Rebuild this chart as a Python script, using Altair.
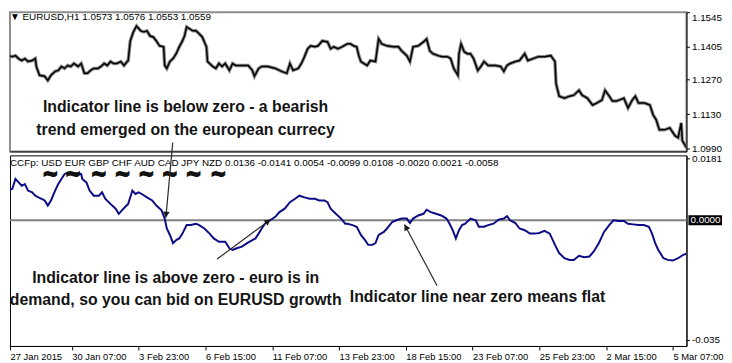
import altair as alt
import pandas as pd

# ---------------- data ----------------
# EURUSD H1 price, sampled by bar index
price_bar = [0,3,7,10,13,16,19,22,26,29,
             30,33,38,41,44,48,51,54,57,60,
             63,66,70,73,76,79,82,85,89,92,
             95,98,101,104,107,111,114,117,118,120,
             123,126,130,133,136,139,142,145,148,152,
             153,155,158,161,164,167,170,172,174,177,
             180,183,186,189,193,194,199,202,205,208,
             211,215,218,221,227,233,237,239,243,246,
             252,259,265,270,273,276,281,284,287,290,
             293,297,300,304,309,312,315,319,323,328,
             331,334,337,339,341,344,347,350,355,358,
             361,366,372,377,380,385,388,391,396,401,
             404,407,410,415,419,424,427,430,434,435,
             437,440,443,446,449,453,456,459,463,470,
             475,478,481,484,489,493,498,501,506,511,
             517,523,527,528,531,536,541,545,550,553,
             558,563,567,572,575,579,582,586,593,597,
             601,604,607,613,618,621,624,627,632,637,
             642,645,646,648,649,653]
price_close = [1.1368,1.1368,1.1364,1.1368,1.1356,1.1348,1.1356,1.1344,1.1348,1.1356,
               1.1324,1.1288,1.1284,1.1267,1.1288,1.1304,1.1308,1.1324,1.1316,1.1328,
               1.1324,1.1336,1.1324,1.1336,1.1296,1.1296,1.1308,1.1316,1.1316,1.1324,
               1.1336,1.1328,1.1344,1.1336,1.1336,1.1344,1.1328,1.1344,1.1348,1.1428,
               1.1465,1.1489,1.1469,1.1465,1.1469,1.1448,1.1444,1.1428,1.1408,1.1404,
               1.1328,1.1316,1.1344,1.1356,1.1376,1.1404,1.1428,1.1448,1.1485,1.1477,
               1.1469,1.1469,1.1457,1.1444,1.1404,1.1344,1.1324,1.1316,1.1336,1.1324,
               1.1336,1.1308,1.1336,1.1328,1.1328,1.1328,1.1308,1.1284,1.1316,1.1324,
               1.1324,1.1316,1.1304,1.1296,1.1336,1.1308,1.1316,1.1336,1.1364,1.1396,
               1.1408,1.1404,1.1408,1.1428,1.1424,1.1396,1.1404,1.1396,1.1404,1.1416,
               1.1416,1.1408,1.1404,1.1368,1.1344,1.1336,1.1328,1.1348,1.1344,1.1436,
               1.1416,1.1408,1.1404,1.1404,1.1388,1.1368,1.1344,1.1404,1.1408,1.1424,
               1.1436,1.1388,1.1376,1.1368,1.1364,1.1364,1.1356,1.1316,1.1288,1.1376,
               1.1416,1.1384,1.1376,1.1376,1.1356,1.1308,1.1324,1.1344,1.1328,1.1328,
               1.1324,1.1304,1.1328,1.1336,1.1344,1.1348,1.1376,1.1348,1.1356,1.1364,
               1.1364,1.1368,1.1344,1.1255,1.1203,1.1195,1.1203,1.1207,1.1227,1.1207,
               1.1195,1.1167,1.1175,1.1187,1.1227,1.1203,1.1183,1.1183,1.1195,1.1155,
               1.1187,1.1203,1.1175,1.1175,1.1167,1.1127,1.1107,1.1066,1.1066,1.1074,
               1.1042,1.1034,1.1054,1.1094,1.1022,1.0994]

# CCFp EUR indicator line
ind_bar = [0,3,7,10,13,16,19,22,26,29,
           32,35,38,41,44,48,51,54,57,60,
           65,70,73,74,78,81,85,90,93,96,
           101,106,109,112,115,118,122,125,128,131,
           136,141,145,150,153,155,158,161,164,167,
           170,174,178,183,186,191,196,200,205,211,
           215,218,222,227,232,237,240,243,246,249,
           254,259,263,268,273,278,282,287,292,297,
           301,306,309,312,317,322,326,328,333,337,
           341,345,348,352,355,358,363,366,371,375,
           380,385,388,391,396,401,404,408,413,418,
           423,426,429,432,435,438,441,446,451,454,
           459,463,468,473,478,481,484,489,493,498,
           503,508,512,517,522,527,531,536,541,545,
           550,555,560,564,569,574,579,583,588,593,
           597,602,607,612,617,620,623,626,631,635,
           640,645,650,653]
ind_val = [0.0053,0.0087,0.0092,0.0121,0.0111,0.0101,0.0106,0.0087,0.0082,0.0072,
           0.0067,0.0063,0.0058,0.0043,0.0058,0.0087,0.0106,0.0121,0.0135,0.0140,
           0.0137,0.0137,0.0135,0.0121,0.0111,0.0087,0.0072,0.0072,0.0082,0.0063,
           0.0048,0.0034,0.0019,0.0029,0.0039,0.0048,0.0087,0.0077,0.0082,0.0077,
           0.0067,0.0058,0.0043,0.0029,0.0005,-0.0024,-0.0043,-0.0067,-0.0058,-0.0053,
           -0.0039,-0.0014,-0.0014,-0.0010,-0.0014,-0.0024,-0.0039,-0.0053,-0.0063,-0.0063,
           -0.0082,-0.0087,-0.0082,-0.0077,-0.0067,-0.0058,-0.0053,-0.0039,-0.0024,-0.0010,
           0.0000,0.0010,0.0024,0.0034,0.0053,0.0063,0.0072,0.0067,0.0063,0.0063,
           0.0058,0.0058,0.0053,0.0034,0.0019,0.0005,-0.0010,-0.0010,-0.0014,-0.0019,
           -0.0043,-0.0058,-0.0072,-0.0072,-0.0067,-0.0043,-0.0034,-0.0024,-0.0005,0.0000,
           0.0005,0.0005,-0.0008,0.0005,0.0014,0.0019,0.0031,0.0024,0.0019,0.0014,
           0.0005,-0.0010,-0.0029,-0.0053,-0.0029,-0.0014,-0.0010,0.0005,0.0000,-0.0019,
           -0.0019,-0.0014,-0.0010,0.0002,0.0005,0.0012,0.0000,-0.0008,-0.0024,-0.0029,
           -0.0039,-0.0039,-0.0037,-0.0031,-0.0039,-0.0072,-0.0096,-0.0111,-0.0116,-0.0116,
           -0.0104,-0.0108,-0.0106,-0.0092,-0.0067,-0.0034,-0.0014,0.0000,-0.0002,-0.0002,
           -0.0010,-0.0012,-0.0014,-0.0014,-0.0019,-0.0039,-0.0067,-0.0087,-0.0111,-0.0116,
           -0.0118,-0.0111,-0.0101,-0.0098]

# axis ticks / labels
date_ticks = [0, 64, 128, 192, 256, 320, 384, 448, 512, 576, 640]
date_labels = ["27 Jan 2015", "30 Jan 07:00", "3 Feb 23:00", "6 Feb 15:00", "11 Feb 07:00",
               "13 Feb 23:00", "18 Feb 15:00", "23 Feb 07:00", "25 Feb 23:00", "2 Mar 15:00",
               "5 Mar 07:00"]
price_ticks = [1.0990, 1.1130, 1.1270, 1.1405, 1.1545]
ind_ticks = [0.0181, -0.035]
ind_tick_labels = ["0.0181", "-0.035"]

header_top = "\u25bc EURUSD,H1  1.0573 1.0576 1.0553 1.0559"
header_bot = "CCFp: USD EUR GBP CHF AUD CAD JPY NZD 0.0136 -0.0141 0.0054 -0.0099 0.0108 -0.0020 0.0021 -0.0058"

# annotations (in data coordinates)
ann_top_text = ["Indicator line is below zero - a bearish", "trend emerged on the european currecy"]
ann_top_bar = [173, 173]
ann_top_price = [1.1159, 1.1066]
ann_bot_text = ["Indicator line is above zero - euro is in", "demand, so you can bid on EURUSD growth",
                "Indicator line near zero means flat"]
ann_bot_bar = [163.5, 163.5, 452.8]
ann_bot_val = [-0.01685, -0.02350, -0.02262]
arrow_bar0 = [160.7, 203.2, 414.0]
arrow_val0 = [0.02275, -0.01136, -0.01917]
arrow_bar1 = [154.1, 254.3, 382.8]
arrow_val1 = [0.00078, 0.0002, -0.00124]
head_bar = [154.4, 252.0, 384.2]
head_val = [0.00165, -0.0003, -0.00201]

# ---------------- styles / layout ----------------
W = 685
H_TOP = 141
H_BOT = 193
X_LO, X_HI = 4.73, 653
head_angle = [185, 53, 332]
tilde_px = [41, 64, 90, 114, 138, 162, 186, 211]
FONT = "Liberation Sans"

xs = alt.Scale(domain=[X_LO, X_HI], nice=False, zero=False)
ys_top = alt.Scale(domain=[1.0978, 1.1545], nice=False, zero=False)
ys_bot = alt.Scale(domain=[-0.0368, 0.0190], nice=False, zero=False)

tick_vals = [max(t, X_LO) for t in date_ticks]
date_expr = "{" + ", ".join(f"'{v}': '{l}'" for v, l in zip(tick_vals, date_labels)) + "}[datum.value]"
ind_expr = "{" + ", ".join(f"'{v}': '{l}'" for v, l in zip(ind_ticks, ind_tick_labels)) + "}[datum.value]"

price_df = pd.DataFrame({"bar": price_bar, "close": price_close})
ind_df = pd.DataFrame({"bar": ind_bar, "val": ind_val})

# ---------- top panel ----------
top_x_axis = alt.Axis(labels=False, ticks=False, title=None, grid=False,
                      domainColor="black", domainWidth=1)
top_y_axis = alt.Axis(orient="right", values=price_ticks, format=".4f", title=None, grid=False,
                      tickSize=3, tickColor="black", domainColor="black", labelFlush=True,
                      labelFont=FONT, labelFontSize=10, labelColor="black", labelPadding=2)

def tx(field):
    return alt.X(field, scale=xs, axis=top_x_axis)

def ty(field):
    return alt.Y(field, scale=ys_top, axis=top_y_axis)

wick = alt.Chart(price_df).mark_line(color="#8a8a8a", strokeWidth=3.5, clip=True).encode(
    x=tx("bar:Q"), y=ty("close:Q"))
pline = alt.Chart(price_df).mark_line(color="black", strokeWidth=1.5, clip=True).encode(
    x=tx("bar:Q"), y=ty("close:Q"))
hdr_top = alt.Chart(pd.DataFrame({"t": [header_top]})).mark_text(
    align="left", baseline="top", font=FONT, fontSize=10, color="black").encode(
    x=alt.value(0), y=alt.value(0), text="t:N")
ann_top = alt.Chart(pd.DataFrame({"bar": ann_top_bar, "close": ann_top_price, "t": ann_top_text})).mark_text(
    align="center", baseline="middle", font=FONT, fontSize=16, fontWeight="bold", color="#141414").encode(
    x=tx("bar:Q"), y=ty("close:Q"), text="t:N")

top = alt.layer(wick, pline, hdr_top, ann_top).properties(
    width=W, height=H_TOP, view=alt.ViewBackground(stroke="#8c8c8c", strokeWidth=2))

# ---------- bottom panel ----------
bot_x_axis = alt.Axis(values=tick_vals, labelExpr=date_expr, title=None, grid=False,
                      labelAlign="left", labelFont=FONT, labelFontSize=9.5, labelColor="black",
                      labelPadding=2, labelFlush=False, labelOverlap=False,
                      tickSize=4, tickColor="black", domainColor="black")
bot_y_axis = alt.Axis(orient="right", values=ind_ticks, labelExpr=ind_expr, title=None, grid=False,
                      tickSize=3, tickColor="black", domainColor="black", labelFlush=False,
                      labelFont=FONT, labelFontSize=10, labelColor="black", labelPadding=2)

def bx(field):
    return alt.X(field, scale=xs, axis=bot_x_axis)

def by(field):
    return alt.Y(field, scale=ys_bot, axis=bot_y_axis)

zero_df = pd.DataFrame({"z": [0.0], "t": ["0.0000"]})
zero_rule = alt.Chart(zero_df).mark_rule(color="#808080", strokeWidth=2).encode(y=by("z:Q"))
iline = alt.Chart(ind_df).mark_line(color="#0c0c86", strokeWidth=2, clip=True).encode(
    x=bx("bar:Q"), y=by("val:Q"))
zero_box = alt.Chart(zero_df).mark_rect(color="black", yOffset=-5, y2Offset=5).encode(
    x=alt.value(W + 2), x2=alt.value(W + 36), y=by("z:Q"), y2=alt.Y2("z"))
zero_txt = alt.Chart(zero_df).mark_text(
    align="left", baseline="middle", font=FONT, fontSize=10, color="white").encode(
    x=alt.value(W + 4), y=by("z:Q"), text="t:N")
hdr_bot = alt.Chart(pd.DataFrame({"t": [header_bot]})).mark_text(
    align="left", baseline="middle", font=FONT, fontSize=10, color="black").encode(
    x=alt.value(0), y=alt.value(8), text="t:N")
tildes_a = alt.Chart(pd.DataFrame({"px": tilde_px, "t": ["~"] * len(tilde_px)})).mark_text(
    align="center", baseline="middle", font="DejaVu Sans", fontSize=22, fontWeight="bold",
    color="#111111").encode(
    x=alt.X("px:Q", scale=None, axis=None), y=alt.value(18), text="t:N")
tildes_b = alt.Chart(pd.DataFrame({"px": tilde_px, "t": ["~"] * len(tilde_px)})).mark_text(
    align="center", baseline="middle", font="DejaVu Sans", fontSize=22, fontWeight="bold",
    color="#111111").encode(
    x=alt.X("px:Q", scale=None, axis=None), y=alt.value(19.5), text="t:N")
ann_bot = alt.Chart(pd.DataFrame({"bar": ann_bot_bar, "val": ann_bot_val, "t": ann_bot_text})).mark_text(
    align="center", baseline="middle", font=FONT, fontSize=16, fontWeight="bold", color="#141414").encode(
    x=bx("bar:Q"), y=by("val:Q"), text="t:N")
arrows = alt.Chart(pd.DataFrame({"b0": arrow_bar0, "v0": arrow_val0, "b1": arrow_bar1, "v1": arrow_val1})).mark_rule(
    color="#2a2a2a", strokeWidth=1.2).encode(
    x=bx("b0:Q"), x2="b1:Q", y=by("v0:Q"), y2="v1:Q")
heads = alt.Chart(pd.DataFrame({"b": head_bar, "v": head_val, "a": head_angle})).mark_point(
    shape="triangle-up", filled=True, size=45, color="#1a1a1a", opacity=1).encode(
    x=bx("b:Q"), y=by("v:Q"), angle=alt.Angle("a:Q", scale=None))

bottom = alt.layer(zero_rule, iline, zero_box, zero_txt, hdr_bot, tildes_a, tildes_b,
                   ann_bot, arrows, heads).properties(
    width=W, height=H_BOT, view=alt.ViewBackground(stroke="black", strokeWidth=1))

chart = alt.vconcat(top, bottom, spacing=4).properties(
    bounds="flush", padding=0, background="white"
).configure_view(fill="white")

chart.save("out.html", embed_options={"renderer": "svg", "actions": False})
